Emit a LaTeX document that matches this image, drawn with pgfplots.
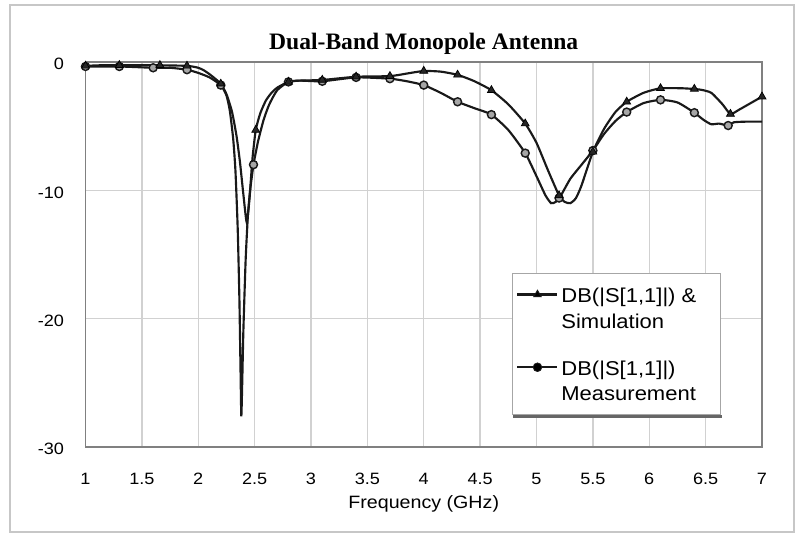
\documentclass[border=0pt]{standalone}
\usepackage{fontspec}
\setmainfont{Liberation Sans}[FakeStretch=1.1]
\newfontfamily\titlefont{Liberation Serif}
\usepackage{pgfplots}
\usepackage{pgfplotstable}
\pgfplotsset{compat=1.18}

% simulated return loss (line)
\pgfplotstableread{
f s
1.00 -0.30
1.15 -0.25
1.30 -0.25
1.60 -0.25
1.90 -0.30
2.00 -0.45
2.05 -0.65
2.10 -0.95
2.15 -1.30
2.20 -1.70
2.25 -2.50
2.30 -3.90
2.34 -5.80
2.37 -7.80
2.40 -10.3
2.43 -12.5
2.455 -10.6
2.48 -7.6
2.51 -5.3
2.55 -4.0
2.60 -3.0
2.65 -2.4
2.70 -2.0
2.80 -1.55
2.90 -1.45
3.10 -1.40
3.40 -1.15
3.70 -1.10
3.85 -0.90
4.00 -0.70
4.15 -0.75
4.30 -1.00
4.45 -1.50
4.60 -2.20
4.75 -3.30
4.90 -4.80
5.00 -6.30
5.10 -8.40
5.20 -10.4
5.25 -10.9
5.30 -11.0
5.35 -10.6
5.40 -9.6
5.50 -7.0
5.60 -5.2
5.70 -3.9
5.80 -3.1
5.95 -2.4
6.10 -2.05
6.30 -2.05
6.45 -2.15
6.55 -2.40
6.65 -3.30
6.72 -4.05
6.80 -3.70
6.90 -3.20
7.00 -2.70
}\simline

% measured return loss (line)
\pgfplotstableread{
f m
1.00 -0.35
1.30 -0.35
1.60 -0.45
1.75 -0.45
1.90 -0.60
2.00 -0.85
2.10 -1.20
2.20 -1.80
2.25 -2.60
2.28 -3.80
2.31 -6.00
2.33 -8.50
2.35 -13.0
2.365 -18.5
2.375 -24.0
2.382 -27.6
2.39 -25.0
2.40 -21.0
2.42 -15.5
2.44 -12.0
2.46 -10.0
2.49 -8.0
2.53 -6.2
2.58 -4.5
2.63 -3.3
2.70 -2.2
2.80 -1.55
2.90 -1.45
3.10 -1.50
3.40 -1.20
3.70 -1.30
3.85 -1.50
4.00 -1.80
4.15 -2.40
4.30 -3.10
4.45 -3.60
4.60 -4.10
4.75 -5.30
4.90 -7.10
5.00 -8.90
5.08 -10.4
5.13 -11.0
5.17 -10.9
5.21 -10.5
5.30 -9.1
5.40 -8.0
5.50 -6.9
5.60 -5.6
5.70 -4.6
5.80 -3.9
5.95 -3.2
6.10 -2.95
6.25 -3.15
6.40 -3.95
6.48 -4.50
6.55 -4.85
6.62 -4.80
6.70 -4.95
6.75 -4.70
6.85 -4.65
7.00 -4.65
}\measline

% marker positions
\pgfplotstableread{
f s
1.00 -0.30
1.30 -0.25
1.66 -0.25
1.90 -0.30
2.20 -1.70
2.51 -5.30
2.80 -1.55
3.10 -1.40
3.40 -1.15
3.70 -1.10
4.00 -0.70
4.30 -1.00
4.60 -2.20
4.90 -4.80
5.20 -10.4
5.50 -7.00
5.80 -3.10
6.10 -2.05
6.40 -2.10
6.72 -4.05
7.00 -2.70
}\simmarks

\pgfplotstableread{
f m
1.00 -0.35
1.30 -0.35
1.60 -0.45
1.90 -0.60
2.20 -1.80
2.49 -8.00
2.80 -1.55
3.10 -1.50
3.40 -1.20
3.70 -1.30
4.00 -1.80
4.30 -3.10
4.60 -4.10
4.90 -7.10
5.20 -10.6
5.50 -6.90
5.80 -3.90
6.10 -2.95
6.40 -3.95
6.70 -4.95
}\measmarks

\newcommand{\legtext}[2]{\begin{tabular}[b]{@{}p{106pt}@{}}#1\\#2\end{tabular}}

\begin{document}
\begin{tikzpicture}
\begin{axis}[
    scale only axis,
    width=473.55pt, height=269.5pt,
    xmin=1, xmax=7, ymin=-30, ymax=0,
    xtick={1,1.5,2,2.5,3,3.5,4,4.5,5,5.5,6,6.5,7},
    xticklabels={1,1.5,2,2.5,3,3.5,4,4.5,5,5.5,6,6.5,7},
    ytick={-30,-20,-10,0},
    yticklabels={-30,-20,-10,0},
    major tick length=0pt,
    grid=major,
    grid style={black!18, line width=1pt},
    axis line style={black!50, line width=1.3pt},
    tick label style={font=\fontsize{11.5}{13}\selectfont},
    xticklabel style={yshift=-15pt},
    yticklabel style={xshift=-11.5pt, yshift=-1.5pt},
    clip=false,
    legend cell align=left,
    legend image code/.code={\draw[mark repeat=2,mark phase=2,#1]
        plot coordinates {(0pt,9pt) (14pt,9pt) (28pt,9pt)};},
    legend style={name=leg, at={(rel axis cs:0.630,0.453)}, anchor=north west,
        draw=black!35, line width=0.6pt, fill=white,
        font=\fontsize{14}{18}\selectfont,
        inner xsep=3pt, inner ysep=6pt, row sep=14.8pt},
]
  \addlegendimage{black!90, line width=1.5pt, mark=triangle*, mark size=3pt,
      mark options={fill=black, line width=0.6pt}}
  \addlegendentry{\legtext{DB(|S[1,1]|) \&}{Simulation}}
  \addlegendimage{black!90, line width=1.5pt, mark=*, mark size=3pt,
      mark options={fill=black, line width=0.6pt}}
  \addlegendentry{\legtext{DB(|S[1,1]|)}{Measurement}}

  \addplot[forget plot, black!90, line width=1.5pt, smooth, tension=0.35]
      table[x=f, y=m] {\measline};
  \addplot[forget plot, black!90, line width=1.5pt, smooth, tension=0.35]
      table[x=f, y=s] {\simline};
  \addplot[forget plot, only marks, mark=*, mark size=2.8pt,
      mark options={draw=black!90, fill=black!35, line width=1pt}]
      table[x=f, y=m] {\measmarks};
  \addplot[forget plot, only marks, mark=triangle*, mark size=3.2pt,
      mark options={draw=black, fill=black!85, line width=0.5pt}]
      table[x=f, y=s] {\simmarks};

  \node[anchor=base, font=\titlefont\bfseries\fontsize{16.5}{19}\selectfont]
      at (rel axis cs:0.5,1) [yshift=8.7pt] {Dual-Band Monopole Antenna};
  \node[anchor=base, font=\fontsize{12.5}{15}\selectfont]
      at (rel axis cs:0.5,0) [yshift=-42.7pt] {Frequency (GHz)};
\end{axis}
% legend shadow along the bottom edge
\fill[black!60] ([xshift=1pt]leg.south west) rectangle ([xshift=0.8pt,yshift=-2.4pt]leg.south east);
\path (-59.85pt,-62.3pt) rectangle (498.75pt,312.9pt);
\draw[black!22, line width=1.2pt] (-52.85pt,-59.5pt) rectangle (495.95pt,309.4pt);
\end{tikzpicture}
\end{document}
